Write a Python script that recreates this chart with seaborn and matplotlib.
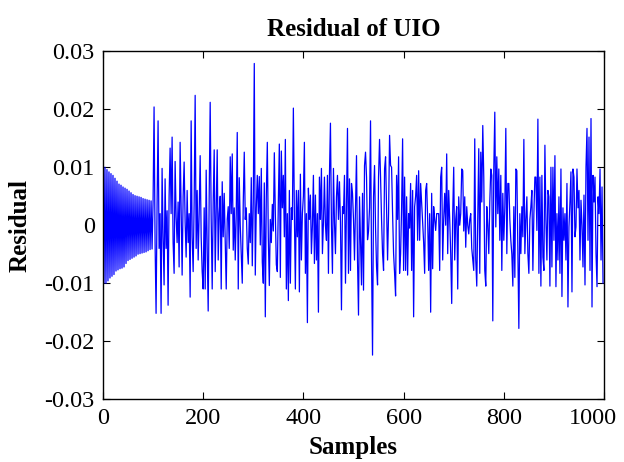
import matplotlib
matplotlib.use("Agg")
import matplotlib.pyplot as plt
import matplotlib.transforms as mtransforms
import seaborn as sns
import numpy as np
import pandas as pd

# residual, one value per pixel column (every 2nd sample), in units of 1e-3
residual_milli = [
    9.9, -10.0, 10.0, -10.0, 9.6, -9.6, 9.2, -9.1, 8.9, -8.8,       # 0
    8.6, -8.5, 8.1, -7.9, 7.6, -7.7, 7.1, -7.5, 6.9, -7.4,          # 20
    6.6, -7.2, 6.4, -6.6, 6.2, -6.1, 5.9, -5.9, 5.6, -5.7,          # 40
    5.3, -5.5, 5.1, -5.3, 5.0, -5.0, 4.9, -4.9, 4.8, -4.8,          # 60
    4.6, -4.7, 4.5, -4.6, 4.4, -4.4, 4.3, -4.2, 4.2, -4.1,          # 80
    4.0, 20.4, -3.0, -15.2, 3.5, 18.0, -4.0, 2.0, -15.2, 9.8,       # 100
    -2.0, -10.3, 8.0, -4.0, 2.5, -13.8, 5.0, 13.3, 2.0, 15.2,       # 120
    -3.0, -8.3, 11.0, 1.5, -3.0, 4.0, -7.2, 14.3, 3.0, -8.6,        # 140
    5.0, 10.9, 0.5, -5.5, 6.0, -3.0, 2.0, -12.4, 18.0, -2.0,        # 160
    -8.0, 4.0, 22.4, -4.0, 6.0, -6.0, 2.0, 12.0, -2.0, -8.0,        # 180
    -11.0, 3.0, -11.0, 9.5, -4.0, -14.8, 5.0, 21.2, 1.0, -11.0,     # 200
    4.0, 13.0, -8.0, 3.0, 13.0, -6.0, 2.0, 5.0, -11.0, 7.5,         # 220
    -2.0, 5.5, -3.0, -11.0, 1.0, 3.2, -4.0, 11.8, 2.0, 12.3,        # 240
    -4.3, 3.0, -6.0, 2.0, 16.0, -11.0, 8.2, 0.0, -5.0, -10.0,       # 260
    4.0, 12.6, 1.0, 3.0, -4.0, -6.7, 2.0, -3.0, 8.2, -7.0,          # 280
    4.0, 27.9, -8.6, 3.0, 8.6, 2.0, 8.4, -3.4, 9.8, -6.4,           # 300
    -10.0, 7.3, -15.8, 5.0, 14.3, -2.0, -10.4, 1.0, -3.0, 3.6,      # 320
    -1.0, 12.5, 2.0, -6.8, -8.0, 4.0, 14.0, -9.0, 12.8, 3.0,        # 340
    8.6, -2.0, 14.8, -11.0, 2.0, -13.0, 6.0, -10.0, 3.0, 1.0,       # 360
    20.2, 2.0, -11.0, 6.0, -2.0, 6.0, -11.5, 8.8, -6.0, 2.0,        # 380
    5.0, 14.3, -8.3, 2.0, -16.8, 6.4, 1.0, 5.2, -4.9, 0.0,          # 400
    8.6, -6.6, 5.2, -6.0, 2.0, -15.0, 8.3, 1.0, 9.8, -4.9,          # 420
    0.5, 8.3, 0.0, -2.6, 8.6, -8.3, 8.6, 17.6, 0.0, -8.3,           # 440
    9.8, 0.5, -4.9, 4.9, 8.6, 1.0, 7.5, 0.5, -14.6, 3.2,            # 460
    2.0, 8.6, -10.0, 3.0, 16.7, -8.3, 8.0, -7.8, 7.2, 5.5,          # 480
    1.0, -6.0, 3.0, 12.0, -6.0, -15.5, 4.9, -3.0, -10.3, 5.5,       # 500
    -11.2, 10.3, 12.6, 8.3, -2.5, -1.0, 3.0, 18.0, -6.0, -22.4,     # 520
    4.9, 10.3, -0.5, -7.2, -10.3, 8.3, 14.8, 8.3, 1.0, -4.9,        # 540
    -7.8, 9.7, 11.8, 3.0, -6.0, 2.0, 15.5, 10.3, 10.0, 2.0,         # 560
    -4.9, -8.3, -12.2, 8.6, 1.0, 11.8, -8.3, -4.9, 3.0, 14.9,       # 580
    -7.8, 8.3, -7.8, 4.9, -8.6, 2.0, -0.5, 7.2, -7.8, 6.0,          # 600
    -15.8, 3.2, 5.0, 8.6, -2.6, 9.4, -2.6, 7.2, 4.0, 0.5,           # 620
    -3.0, -8.3, 6.0, 7.2, 1.0, -7.8, 2.0, -15.0, 5.5, -7.5,         # 640
    3.2, 1.0, -0.9, 2.0, 2.0, 2.0, -7.8, 8.3, 10.0, -6.0,           # 660
    1.0, 5.5, 0.0, 12.3, -4.9, 6.0, 1.0, -4.9, -13.5, 2.0,          # 680
    10.0, -6.0, 1.0, 3.2, -11.0, 4.9, 0.0, 2.0, 9.7, 9.4,           # 700
    -1.0, 4.9, -3.8, 3.2, 0.0, -1.5, 1.0, 2.0, -4.0, -6.0,          # 720
    -7.8, 14.9, -6.0, -10.5, 2.0, 13.2, -8.3, 12.6, 4.0, 17.2,      # 740
    8.3, -7.8, -10.5, 3.2, 0.0, -4.9, 4.0, 9.7, 8.6, -16.5,         # 760
    9.7, 19.5, -0.3, 11.8, 2.0, 9.7, -2.6, 8.6, -7.8, 5.5,          # 780
    -2.6, 3.0, 16.7, -4.9, 7.2, 7.2, 1.0, -2.6, -5.0, -10.5,        # 800
    3.2, -9.0, 9.7, 9.4, -3.6, -17.8, 2.0, -4.9, 3.2, -2.0,         # 820
    14.8, -4.9, 1.0, 4.9, -4.9, -8.3, 1.0, 3.2, 6.0, -7.8,          # 840
    2.0, 8.3, 8.3, -0.9, 18.3, -8.3, 8.3, -10.5, 8.6, -5.5,         # 860
    -7.8, 13.8, 1.0, -6.0, 6.0, 4.9, -10.5, 10.0, -7.2, 10.0,       # 880
    -2.6, 12.0, -10.6, 2.0, -6.0, 4.9, -8.3, 9.7, -12.3, 3.0,       # 900
    -2.6, 2.0, -6.0, 7.2, -14.1, -0.3, 4.0, 9.2, -11.5, 9.7,        # 920
    8.3, -2.0, -0.3, 9.7, 3.0, 6.0, -6.0, 4.3, 0.0, -7.2,           # 940
    5.2, -10.3, 10.0, 16.7, -2.6, 15.2, -7.8, 18.4, -14.1, 8.6,     # 960
    4.0, 8.3, -4.9, -10.6, 4.9, 2.0, 9.7, -6.0, 6.6, -10.0,         # 980
]

x_ticks = [0, 200, 400, 600, 800, 1000]
y_ticks = [-0.03, -0.02, -0.01, 0, 0.01, 0.02, 0.03]
y_tick_labels = ["-0.03", "-0.02", "-0.01", "0", "0.01", "0.02", "0.03"]

residual = np.array(residual_milli) * 1e-3
samples = np.arange(len(residual)) * 2
df = pd.DataFrame({"Samples": samples, "Residual": residual})

sns.set_style("ticks")
plt.rcParams["font.family"] = ["Liberation Serif", "DejaVu Serif"]
plt.rcParams["text.color"] = "black"
plt.rcParams["axes.labelcolor"] = "black"

fig = plt.figure(figsize=(6.24, 4.62), dpi=100)
ax = fig.add_axes([0.165, 0.136, 0.803, 0.753])

sns.lineplot(data=df, x="Samples", y="Residual", color="#0000ff",
             linewidth=0.9, estimator=None, sort=False, ax=ax)

ax.set_xlim(0, 1000)
ax.set_ylim(-0.03, 0.03)
ax.set_xticks(x_ticks)
ax.set_xticklabels([str(t) for t in x_ticks])
ax.set_yticks(y_ticks)
ax.set_yticklabels(y_tick_labels)
ax.tick_params(direction="in", length=5, width=0.8, labelsize=17.5, pad=6,
               top=True, right=True, colors="black", labelcolor="black")
for side in ax.spines.values():
    side.set_visible(True)
    side.set_linewidth(1.0)
    side.set_color("black")

# the last x label sits a little left so it stays inside the figure
last = ax.get_xticklabels()[-1]
last.set_transform(last.get_transform() +
                   mtransforms.ScaledTranslation(-0.11, 0, fig.dpi_scale_trans))

ax.set_title("Residual of UIO", fontsize=18, fontweight="bold", color="black", pad=11)
ax.set_xlabel("Samples", fontsize=18, fontweight="bold", color="black")
ax.set_ylabel("Residual", fontsize=18, fontweight="bold", color="black")
ax.xaxis.set_label_coords(0.5, -0.105)
ax.yaxis.set_label_coords(-0.142, 0.5)

fig.savefig("out.png", dpi=100)
